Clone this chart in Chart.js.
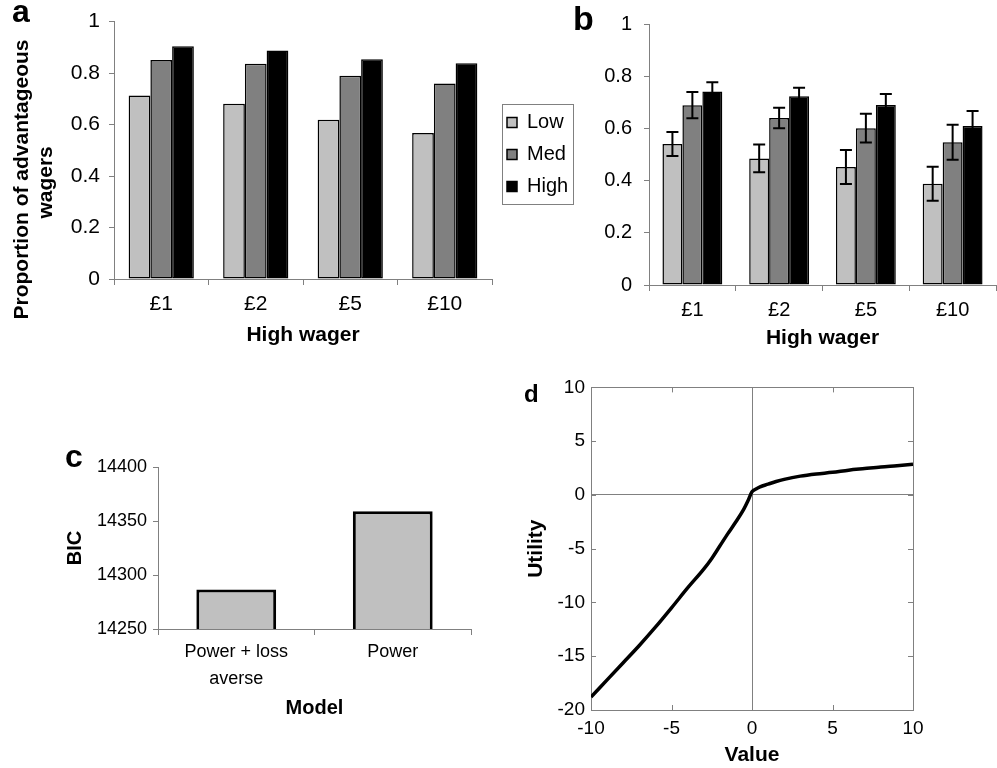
<!DOCTYPE html>
<html>
<head>
<meta charset="utf-8">
<script src="https://cdn.jsdelivr.net/npm/chart.js@4.4.1/dist/chart.umd.min.js"></script>
<style>
  body { margin: 0; background: #fff; width: 997px; height: 768px; position: relative; overflow: hidden;
         font-family: "Liberation Sans", Arial, sans-serif; }
  canvas { position: absolute; }
  .tag { position: absolute; font-weight: bold; line-height: 1; color: #000; }
</style>
</head>
<body>
<canvas id="chartA" width="495" height="365" style="left:0;top:0"></canvas>
<canvas id="chartB" width="502" height="365" style="left:495px;top:0"></canvas>
<canvas id="chartC" width="440" height="345" style="left:50px;top:380px"></canvas>
<canvas id="chartD" width="440" height="398" style="left:500px;top:370px"></canvas>
<div class="tag" style="left:12px;top:-5px;font-size:32px">a</div>
<div class="tag" style="left:573px;top:1px;font-size:34px">b</div>
<div class="tag" style="left:65px;top:440px;font-size:32px">c</div>
<div class="tag" style="left:524px;top:382px;font-size:24px">d</div>
<script>
// data
const wagerLabels = ['£1', '£2', '£5', '£10'];
const groupNames = ['Low', 'Med', 'High'];
const groupFills = ['#c0c0c0', '#808080', '#000000'];

// panel a: proportion of advantageous wagers
const aLow = [0.713, 0.681, 0.619, 0.567];
const aMed = [0.851, 0.836, 0.790, 0.760];
const aHigh = [0.904, 0.888, 0.854, 0.838];

// panel b: same measure with error bars
const bLow = [0.540, 0.485, 0.452, 0.388];
const bMed = [0.689, 0.640, 0.601, 0.547];
const bHigh = [0.741, 0.723, 0.690, 0.609];
const bLowErr = [0.046, 0.053, 0.065, 0.065];
const bMedErr = [0.050, 0.039, 0.055, 0.067];
const bHighErr = [0.036, 0.033, 0.042, 0.058];

// panel c: model comparison
const modelLabels = [['Power + loss', 'averse'], 'Power'];
const bicValues = [14286.5, 14359];

// panel d: utility curve
const utilX = [-10, -9, -8, -7, -6, -5, -4, -3, -2.5, -2, -1.5, -1, -0.5, -0.25, 0, 0.25, 0.5, 1, 1.5, 2, 3, 4, 5, 6, 7, 8, 9, 10];
const utilY = [-18.8, -17.2, -15.6, -14.0, -12.3, -10.5, -8.65, -6.9, -5.9, -4.75, -3.6, -2.5, -1.3, -0.55, 0.3, 0.55, 0.75, 1.0, 1.25, 1.45, 1.75, 1.95, 2.1, 2.3, 2.45, 2.6, 2.72, 2.85];

Chart.defaults.font.family = '"Liberation Sans", Arial, sans-serif';
Chart.defaults.color = '#000';

const AXIS = '#808080';
const NB = '\u00a0';

function catAxis(size, pad, h, titleText, titleBottom) {
  return {
    grid: { display: true, drawOnChartArea: false, drawTicks: true, tickLength: 6, color: AXIS, offset: true },
    border: { color: AXIS },
    ticks: { font: { size: size }, padding: pad, maxRotation: 0, autoSkip: false },
    title: { display: !!titleText, text: titleText, font: { size: 21, weight: 'bold' }, padding: { top: 0, bottom: titleBottom } },
    afterFit(s) { s.height = h; }
  };
}

function valAxis(min, max, step, size, pad, w, title, titleTop, titleSize, lh) {
  return {
    min: min, max: max,
    grid: { display: true, drawOnChartArea: false, drawTicks: true, tickLength: 5, color: AXIS },
    border: { color: AXIS },
    ticks: { stepSize: step, font: { size: size }, padding: pad, callback: v => String(v) },
    title: { display: !!title, text: title, font: { size: titleSize, weight: 'bold', lineHeight: lh }, padding: { top: titleTop, bottom: 0 } },
    afterFit(s) { s.width = typeof w === 'function' ? w(s) : w; }
  };
}

function groupSets(values, errs) {
  return values.map((vals, i) => ({
    label: groupNames[i],
    data: vals,
    errors: errs ? errs[i] : null,
    backgroundColor: groupFills[i],
    borderColor: '#000',
    borderWidth: 1.5,
    borderSkipped: false,
    categoryPercentage: 0.69,
    barPercentage: 1
  }));
}

// frame round the legend
const legendFrame = {
  id: 'legendFrame',
  afterDraw(chart) {
    const lg = chart.legend;
    if (!lg || !lg.options.display || !lg.legendHitBoxes.length) return;
    const hb = lg.legendHitBoxes;
    const l = Math.min(...hb.map(h => h.left)) - 5;
    const r = Math.max(...hb.map(h => h.left + h.width)) + 5;
    const t = hb[0].top - 9;
    const last = hb[hb.length - 1];
    const b = last.top + last.height + 7;
    const ctx = chart.ctx;
    ctx.save();
    ctx.strokeStyle = AXIS;
    ctx.lineWidth = 1;
    ctx.strokeRect(Math.round(l) + 0.5, Math.round(t) + 0.5, Math.round(r - l), Math.round(b - t));
    ctx.restore();
  }
};

// error bars from the dataset's errors array
const errorBars = {
  id: 'errorBars',
  afterDatasetsDraw(chart) {
    const ctx = chart.ctx;
    const y = chart.scales.y;
    ctx.save();
    ctx.strokeStyle = '#000';
    ctx.lineWidth = 2;
    chart.data.datasets.forEach((ds, i) => {
      if (!ds.errors) return;
      chart.getDatasetMeta(i).data.forEach((bar, j) => {
        const v = ds.data[j], e = ds.errors[j];
        const top = y.getPixelForValue(v + e), bot = y.getPixelForValue(v - e);
        ctx.beginPath();
        ctx.moveTo(bar.x, top); ctx.lineTo(bar.x, bot);
        ctx.moveTo(bar.x - 6, top); ctx.lineTo(bar.x + 6, top);
        ctx.moveTo(bar.x - 6, bot); ctx.lineTo(bar.x + 6, bot);
        ctx.stroke();
      });
    });
    ctx.restore();
  }
};

// box with inward ticks for panel d
const boxTicks = {
  id: 'boxTicks',
  beforeDatasetsDraw(chart) {
    const { ctx, chartArea: a, scales: { x, y } } = chart;
    ctx.save();
    ctx.strokeStyle = AXIS;
    ctx.lineWidth = 1;
    ctx.strokeRect(Math.round(a.left) + 0.5, Math.round(a.top) + 0.5, Math.round(a.right - a.left), Math.round(a.bottom - a.top));
    ctx.beginPath();
    x.ticks.forEach(t => {
      const px = Math.round(x.getPixelForValue(t.value)) + 0.5;
      ctx.moveTo(px, a.bottom); ctx.lineTo(px, a.bottom - 5);
      ctx.moveTo(px, a.top); ctx.lineTo(px, a.top + 5);
    });
    y.ticks.forEach(t => {
      const py = Math.round(y.getPixelForValue(t.value)) + 0.5;
      ctx.moveTo(a.left, py); ctx.lineTo(a.left + 5, py);
      ctx.moveTo(a.right, py); ctx.lineTo(a.right - 5, py);
    });
    ctx.stroke();
    ctx.restore();
  }
};

const base = { responsive: false, animation: false, events: [] };

// panel a
new Chart(document.getElementById('chartA'), {
  type: 'bar',
  data: { labels: wagerLabels, datasets: groupSets([aLow, aMed, aHigh]) },
  options: Object.assign({}, base, {
    layout: { padding: { top: 21, right: 3, left: 0, bottom: 0 } },
    plugins: { legend: { display: false }, tooltip: { enabled: false } },
    scales: {
      x: catAxis(21, 7, 86, 'High wager', 17),
      y: valAxis(0, 1, 0.2, 21, 9, 114,
        ['Proportion of advantageous' + NB.repeat(10), 'wagers' + NB.repeat(11)], 10, 21, 1.15)
    }
  })
});

// panel b (carries the shared legend on its left)
new Chart(document.getElementById('chartB'), {
  type: 'bar',
  data: { labels: wagerLabels, datasets: groupSets([bLow, bMed, bHigh], [bLowErr, bMedErr, bHighErr]) },
  options: Object.assign({}, base, {
    layout: { padding: { top: 15, right: 1, left: 0, bottom: 0 } },
    plugins: {
      legend: {
        position: 'left', fullSize: false,
        labels: { boxWidth: 10, boxHeight: 10, padding: 12, font: { size: 20 }, color: '#000' }
      },
      tooltip: { enabled: false }
    },
    scales: {
      x: catAxis(20, 7, 80, 'High wager', 14),
      y: valAxis(0, 1, 0.2, 20, 12, s => 154 - (s.chart.legend ? s.chart.legend.width : 84), '', 0, 21, 1.2)
    }
  }),
  plugins: [errorBars, legendFrame]
});

// panel c
const cxAxis = catAxis(18, 4, 96, 'Model', 5);
cxAxis.ticks.font = { size: 18, lineHeight: 1.5 };
cxAxis.title.font = { size: 20, weight: 'bold' };
new Chart(document.getElementById('chartC'), {
  type: 'bar',
  data: {
    labels: modelLabels,
    datasets: [{
      label: 'BIC', data: bicValues, backgroundColor: '#c0c0c0', borderColor: '#000',
      borderWidth: 3, borderSkipped: false, categoryPercentage: 0.51, barPercentage: 1
    }]
  },
  options: Object.assign({}, base, {
    layout: { padding: { top: 87, right: 19, left: 0, bottom: 0 } },
    plugins: { legend: { display: false }, tooltip: { enabled: false } },
    scales: {
      x: cxAxis,
      y: valAxis(14250, 14400, 50, 18, 6, 108, 'BIC', 13, 20, 1.2)
    }
  })
});

// panel d
new Chart(document.getElementById('chartD'), {
  type: 'line',
  data: {
    datasets: [{
      data: utilX.map((x, i) => ({ x: x, y: utilY[i] })),
      borderColor: '#000', borderWidth: 3.5, pointRadius: 0, cubicInterpolationMode: 'monotone'
    }]
  },
  options: Object.assign({}, base, {
    layout: { padding: { top: 17, right: 27, left: 0, bottom: 0 } },
    plugins: { legend: { display: false }, tooltip: { enabled: false } },
    scales: {
      x: {
        type: 'linear', min: -10, max: 10,
        grid: { color: c => (c.tick && c.tick.value === 0 ? AXIS : 'rgba(0,0,0,0)'), drawTicks: false },
        border: { display: false },
        ticks: { stepSize: 5, font: { size: 19 }, padding: 7, callback: v => String(v) },
        title: { display: true, text: 'Value', font: { size: 21, weight: 'bold' }, padding: { top: 0, bottom: 0 } },
        afterFit(s) { s.height = 58; }
      },
      y: {
        type: 'linear', min: -20, max: 10,
        grid: { color: c => (c.tick && c.tick.value === 0 ? AXIS : 'rgba(0,0,0,0)'), drawTicks: false },
        border: { display: false },
        ticks: { stepSize: 5, font: { size: 19 }, padding: 6, callback: v => String(v) },
        title: { display: true, text: 'Utility', font: { size: 21, weight: 'bold' }, padding: { top: 24, bottom: 0 } },
        afterFit(s) { s.width = 91; }
      }
    }
  }),
  plugins: [boxTicks]
});
</script>
</body>
</html>
